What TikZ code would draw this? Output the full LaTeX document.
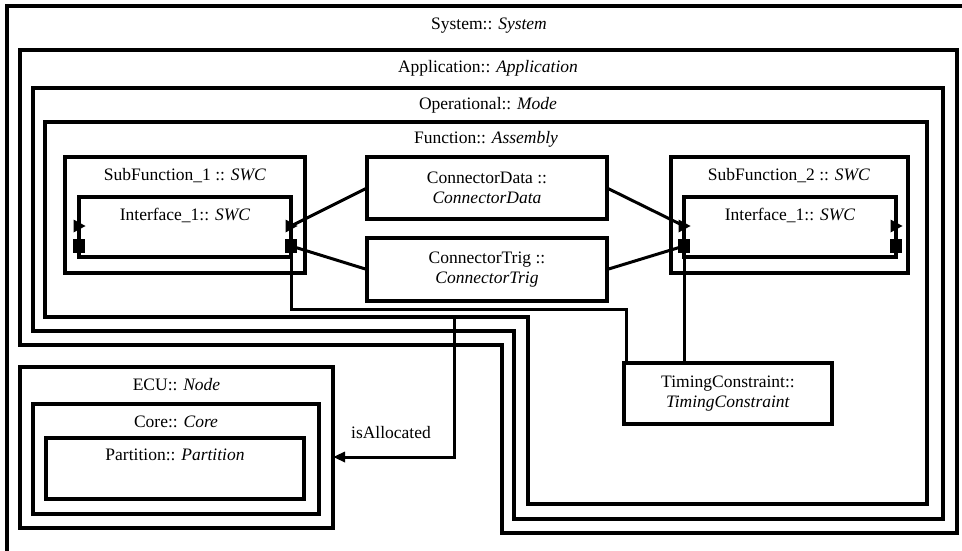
\documentclass[tikz,border=0pt]{standalone}
\usepackage{fontspec}
\setmainfont{Liberation Serif}
\usetikzlibrary{arrows.meta}
\begin{document}
\begin{tikzpicture}[x=1pt,y=-1pt,
  frame/.style={line width=3.3pt},
  box/.style={draw,line width=3.3pt,inner sep=0pt,outer sep=0pt,anchor=north west,
    align=center,font=\fontsize{17.5}{20.5}\selectfont},
  lbl/.style={anchor=base,inner sep=0pt,font=\fontsize{17.5}{20.5}\selectfont},
  wire/.style={line width=3pt},
  sqport/.style={fill,inner sep=0pt,outer sep=0pt,minimum width=12pt,minimum height=14pt},
  pics/inport/.style={code={\fill (-5.5,-6.5) -- (6.5,0) -- (-5.5,6.5) -- cycle;}},
]
\useasboundingbox (0,0) rectangle (962,551);
\clip (0,0) rectangle (962,551);

% nested containers
\draw[frame] (985,6) -- (7,6) -- (7,570);
\node[lbl] (lsys) at (489,29.5) {System:: \textit{System}};
\draw[frame] (20,50) -- (957,50) -- (957,533) -- (502,533) -- (502,345) -- (20,345) -- cycle;
\node[lbl] (lapp) at (488,73) {Application:: \textit{Application}};
\draw[frame] (33,88) -- (943,88) -- (943,519) -- (514,519) -- (514,331) -- (33,331) -- cycle;
\node[lbl] (lop) at (488,110) {Operational:: \textit{Mode}};
\draw[frame] (45,122) -- (927,122) -- (927,504) -- (528,504) -- (528,317) -- (45,317) -- cycle;
\node[lbl] (lfun) at (486,143) {Function:: \textit{Assembly}};

% software components
\node[box,minimum width=240pt,minimum height=116pt] (sf1) at (65,157) {};
\node[lbl] (lsf1) at (185,180) {SubFunction\_1 :: \textit{SWC}};
\node[box,minimum width=212pt,minimum height=60pt] (if1) at (79,197) {};
\node[lbl] (lif1) at (185,220) {Interface\_1:: \textit{SWC}};

\node[box,minimum width=237pt,minimum height=116pt] (sf2) at (671,157) {};
\node[lbl] (lsf2) at (789,180) {SubFunction\_2 :: \textit{SWC}};
\node[box,minimum width=212pt,minimum height=60pt] (if2) at (684,197) {};
\node[lbl] (lif2) at (790,220) {Interface\_1:: \textit{SWC}};

% connectors
\node[box,minimum width=240pt,minimum height=62pt] (cd) at (367,157)
  {ConnectorData ::\\\textit{ConnectorData}};
\node[box,minimum width=240pt,minimum height=63pt] (ct) at (367,238)
  {ConnectorTrig ::\\\textit{ConnectorTrig}};

% timing constraint
\node[box,minimum width=208pt,minimum height=61pt] (tc) at (624,363)
  {TimingConstraint::\\\textit{TimingConstraint}};

% platform
\node[box,minimum width=313pt,minimum height=161pt] (ecu) at (20,367) {};
\node[lbl] (lecu) at (176.5,390) {ECU:: \textit{Node}};
\node[box,minimum width=286pt,minimum height=110pt] (core) at (33,404) {};
\node[lbl] (lcore) at (176,427) {Core:: \textit{Core}};
\node[box,minimum width=258pt,minimum height=61pt] (part) at (46,438) {};
\node[lbl] (lpart) at (175,460) {Partition:: \textit{Partition}};

% ports
\coordinate (t1l) at (79,226);
\coordinate (t1r) at (291,226);
\coordinate (t2l) at (684,226);
\coordinate (t2r) at (896,226);
\pic at (t1l) {inport};
\pic at (t1r) {inport};
\pic at (t2l) {inport};
\pic at (t2r) {inport};
\node[sqport] (s1l) at (79,246) {};
\node[sqport] (s1r) at (291,246) {};
\node[sqport] (s2l) at (684,246) {};
\node[sqport] (s2r) at (896,246) {};

% data and trigger links
\draw[wire] (cd.west) -- (t1r);
\draw[wire] (cd.east) -- (t2l);
\draw[wire] (ct.west) -- (s1r.center);
\draw[wire] (ct.east) -- (s2l.center);

% timing references
\coordinate (tbend) at (626,309);
\draw[wire] (s1r.center) |- (tbend) -- (tbend |- tc.north);
\draw[wire] (s2l.center) -- (s2l.center |- tc.north);

% allocation
\coordinate (astart) at (454,318);
\coordinate (aend) at (333,457);
\draw[wire,-{Triangle[length=12pt,width=10pt]}] (astart) |- (aend);
\node[lbl] (lalloc) at (391,438) {isAllocated};
\end{tikzpicture}
\end{document}
